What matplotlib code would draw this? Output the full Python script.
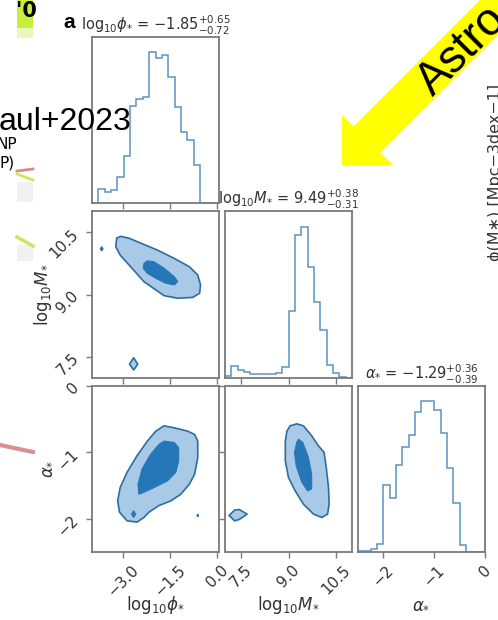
import numpy as np
import matplotlib
matplotlib.use("Agg")
import matplotlib.pyplot as plt
from matplotlib.patches import Polygon, Rectangle

# --- posterior histograms: 20 bins across each parameter range ---
phi_range = (-4.0, 0.06)
mass_range = (7.0, 11.0)
alpha_range = (-2.5, 0.0)

phi_counts = [0, 41, 33, 38, 78, 142, 290, 313, 318, 453,
              436, 445, 378, 288, 213, 188, 113, 0, 0, 0]
mass_counts = [1.5, 11, 7, 5, 3.5, 3, 3.5, 3, 4, 10,
               66, 142, 150, 110, 75, 47, 12, 4, 1, 0]
alpha_counts = [3, 3, 10, 25, 202, 163, 260, 315, 350, 418,
                452, 452, 425, 357, 252, 148, 22, 0, 0, 0]

# --- credible region outlines (outer = 95%, inner = 68%) ---
phi_mass_outer_x = [-3.21, -3.08, -2.83, -2.45, -1.91, -1.37, -0.89, -0.62, -0.53,
                    -0.56, -0.78, -1.26, -1.69, -1.96, -2.34, -2.72, -3.10, -3.24]
phi_mass_outer_y = [10.36, 10.40, 10.36, 10.24, 10.07, 9.87, 9.67, 9.47, 9.23,
                    9.03, 8.93, 8.91, 8.97, 9.11, 9.31, 9.63, 9.95, 10.15]
phi_mass_inner_x = [-2.34, -2.23, -2.02, -1.69, -1.37, -1.26, -1.37, -1.64, -1.96, -2.23, -2.36]
phi_mass_inner_y = [9.75, 9.81, 9.79, 9.63, 9.43, 9.31, 9.23, 9.27, 9.39, 9.51, 9.63]
phi_mass_dot_x = [-3.73, -3.69, -3.65, -3.69]
phi_mass_dot_y = [10.10, 10.15, 10.10, 10.05]
phi_mass_island_x = [-2.67, -2.54, -2.67, -2.80]
phi_mass_island_y = [7.48, 7.32, 7.18, 7.32]

phi_alpha_outer_x = [-1.70, -1.37, -0.94, -0.72, -0.62, -0.62, -0.72, -0.89, -1.16, -1.48, -1.86,
                     -2.18, -2.34, -2.56, -2.88, -3.12, -3.18, -3.10, -2.88, -2.56, -2.23, -1.96]
phi_alpha_outer_y = [-0.60, -0.63, -0.68, -0.73, -0.83, -1.08, -1.33, -1.48, -1.63, -1.73, -1.80,
                     -1.90, -1.98, -2.05, -2.03, -1.90, -1.73, -1.53, -1.30, -1.05, -0.83, -0.68]
phi_alpha_inner_x = [-1.70, -1.37, -1.23, -1.23, -1.32, -1.59, -2.02, -2.34, -2.50, -2.53, -2.40, -2.13, -1.86]
phi_alpha_inner_y = [-0.83, -0.85, -0.93, -1.13, -1.30, -1.43, -1.53, -1.60, -1.63, -1.48, -1.25, -1.03, -0.88]
phi_alpha_blob_x = [-2.73, -2.67, -2.61, -2.67]
phi_alpha_blob_y = [-1.93, -1.88, -1.93, -1.98]
phi_alpha_dot_x = [-0.64, -0.62, -0.60, -0.62]
phi_alpha_dot_y = [-1.95, -1.93, -1.95, -1.97]

mass_alpha_outer_x = [9.05, 9.26, 9.47, 9.73, 9.94, 10.12, 10.19, 10.26, 10.28,
                      10.23, 10.05, 9.79, 9.47, 9.21, 9.00, 8.90, 8.90, 8.95]
mass_alpha_outer_y = [-0.60, -0.57, -0.60, -0.75, -0.90, -1.00, -1.23, -1.53, -1.78,
                      -1.93, -1.98, -1.93, -1.78, -1.58, -1.38, -1.13, -0.83, -0.68]
mass_alpha_inner_x = [9.31, 9.45, 9.63, 9.73, 9.73, 9.60, 9.42, 9.24, 9.19, 9.26]
mass_alpha_inner_y = [-0.80, -0.85, -1.08, -1.33, -1.55, -1.58, -1.45, -1.20, -1.00, -0.85]
mass_alpha_island_x = [7.13, 7.30, 7.45, 7.70, 7.45, 7.30]
mass_alpha_island_y = [-1.95, -1.87, -1.86, -1.93, -2.01, -2.03]

titles = [r"$\mathrm{log}_{10}\phi_{*}$ = $-1.85^{+0.65}_{-0.72}$",
          r"$\mathrm{log}_{10}M_{*}$ = $9.49^{+0.38}_{-0.31}$",
          r"$\alpha_{*}$ = $-1.29^{+0.36}_{-0.39}$"]
labels = [r"$\mathrm{log}_{10}\phi_{*}$", r"$\mathrm{log}_{10}M_{*}$", r"$\alpha_{*}$"]
ranges = [phi_range, mass_range, alpha_range]
ticks = [[-3.0, -1.5, 0.0], [7.5, 9.0, 10.5], [-2, -1, 0]]
tick_text = [["\u22123.0", "\u22121.5", "0.0"], ["7.5", "9.0", "10.5"], ["\u22122", "\u22121", "0"]]

hist_col = "#5b93c0"
light = "#a9cae6"
dark = "#2577b8"
edge = "#2f6c9f"
frame = "#7a7a7a"

fig = plt.figure(figsize=(4.98, 6.2), dpi=100)
gs = fig.add_gridspec(3, 3, left=92/498, right=485/498, top=1-37/620, bottom=1-552/620,
                      wspace=0.047, hspace=0.051)
axes = [[fig.add_subplot(gs[i, j]) for j in range(3)] for i in range(3)]


def style(ax):
    for s in ax.spines.values():
        s.set_color(frame)
        s.set_linewidth(1.3)
    ax.tick_params(color=frame, labelcolor="#333333", labelsize=11, length=4, width=1)


def region(ax, ox, oy, ix=None, iy=None):
    ax.fill(ox, oy, facecolor=light, edgecolor=edge, lw=1.2, zorder=2)
    if ix is not None:
        ax.fill(ix, iy, facecolor=dark, edgecolor=dark, lw=0.8, zorder=3)


counts = [phi_counts, mass_counts, alpha_counts]
for i in range(3):
    for j in range(3):
        ax = axes[i][j]
        if j > i:
            ax.axis("off")
            continue
        style(ax)
        ax.set_xlim(ranges[j])
        ax.set_xticks(ticks[j])
        if i == 2:
            ax.set_xticklabels(tick_text[j], rotation=45)
            ax.set_xlabel(labels[j], fontsize=12, color="#333333")
            ax.xaxis.set_label_coords(0.5, -0.25)
        else:
            ax.set_xticklabels([])
        if i == j:
            edges = np.linspace(ranges[j][0], ranges[j][1], len(counts[j]) + 1)
            ax.stairs(counts[j], edges, color=hist_col, lw=1.1)
            ax.set_ylim(0, 1.1 * max(counts[j]))
            ax.set_yticks([])
            ax.set_title(titles[j], fontsize=10.5, pad=4, color="#333333")
        else:
            ax.set_ylim(ranges[i])
            ax.set_yticks(ticks[i])
            if j == 0:
                ax.set_yticklabels(tick_text[i], rotation=45)
                ax.set_ylabel(labels[i], fontsize=12, color="#333333")
                ax.yaxis.set_label_coords(-0.30, 0.5)
            else:
                ax.set_yticklabels([])

region(axes[1][0], phi_mass_outer_x, phi_mass_outer_y, phi_mass_inner_x, phi_mass_inner_y)
region(axes[1][0], phi_mass_island_x, phi_mass_island_y)
axes[1][0].fill(phi_mass_dot_x, phi_mass_dot_y, color=dark, zorder=3)

region(axes[2][0], phi_alpha_outer_x, phi_alpha_outer_y, phi_alpha_inner_x, phi_alpha_inner_y)
axes[2][0].fill(phi_alpha_blob_x, phi_alpha_blob_y, color=dark, zorder=3)
axes[2][0].fill(phi_alpha_dot_x, phi_alpha_dot_y, color=dark, zorder=3)

region(axes[2][1], mass_alpha_outer_x, mass_alpha_outer_y, mass_alpha_inner_x, mass_alpha_inner_y)
region(axes[2][1], mass_alpha_island_x, mass_alpha_island_y)

# panel tag
fig.text(63/498, 1-28/620, "a", fontsize=15, fontweight="bold", family="Liberation Sans")

# overlay layer in pixel units for the slide annotations
ov = fig.add_axes([0, 0, 1, 1], zorder=10)
ov.set_xlim(0, 498)
ov.set_ylim(620, 0)
ov.axis("off")
ov.patch.set_alpha(0)

# strip of the neighbouring slide on the left
ov.add_patch(Rectangle((17, 0), 16, 28, color="#c8ef3e", lw=0))
ov.add_patch(Rectangle((17, 28), 16, 10, color="#eaf8c0", lw=0))
ov.text(16, 17, "'0", fontsize=15, fontweight="bold", family="DejaVu Sans")
ov.add_patch(Rectangle((17, 182), 16, 20, color="#d8d8dc", alpha=0.35, lw=0))
ov.add_patch(Rectangle((17, 245), 16, 16, color="#d8d8dc", alpha=0.35, lw=0))
ov.plot([17, 33], [171, 169], color="#d88a8a", lw=2)
ov.plot([17, 33], [174, 180], color="#c8e860", lw=2)
ov.plot([17, 33], [237, 246], color="#c8e860", lw=2.5)
ov.plot([0, 33], [445, 452], color="#d89090", lw=3)
ov.text(17, 149, "NP", fontsize=11, ha="right", family="DejaVu Sans")
ov.text(15, 168, "P)", fontsize=11, ha="right", family="DejaVu Sans")
ov.text(-1, 130, "aul+2023", fontsize=23, family="Liberation Sans")

# neighbouring axis label, cut by the right edge
ov.text(488, 172, "\u03d5(M\u2217) [Mpc\u22123dex\u22121]", fontsize=11.5, rotation=90,
        ha="left", va="center", color="#333333", family="DejaVu Sans")

# yellow arrow with caption
arrow = [(342, 165), (342, 115), (353.75, 126.25), (540, -60), (593, -60), (380.25, 152.75), (393, 165)]
ov.add_patch(Polygon(arrow, closed=True, color="#ffff00", lw=0))
ov.text(433, 97, "Astro", fontsize=33, rotation=45, rotation_mode="anchor",
        ha="left", va="baseline", family="Liberation Sans")

fig.savefig("out.png", dpi=100)
